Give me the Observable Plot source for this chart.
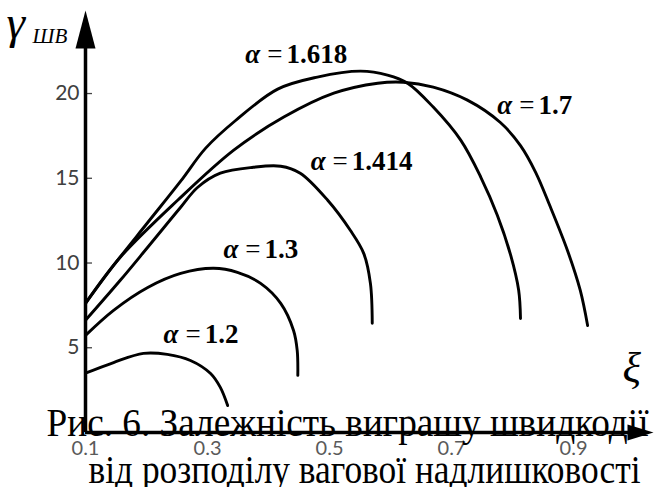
<!DOCTYPE html>
<html>
<head>
<meta charset="utf-8">
<script src="https://cdn.jsdelivr.net/npm/d3@7"></script>
<script src="https://cdn.jsdelivr.net/npm/@observablehq/plot@0.6"></script>
<style>
  html, body { margin: 0; padding: 0; background: #fff; }
  #fig { width: 654px; height: 487px; overflow: hidden; }
</style>
</head>
<body>
<div id="fig"></div>
<script>
// Axis ticks
const xiTicks = [0.1, 0.3, 0.5, 0.7, 0.9];
const gammaTicks = [5, 10, 15, 20];

// Curve families: speed gain γ_ШВ versus redundancy split ξ, one per α
const alphas = ["1.2", "1.3", "1.414", "1.618", "1.7"];

const xi12 = [0.1, 0.146, 0.195, 0.234, 0.272, 0.305, 0.321, 0.333];
const g12  = [3.5, 4.13, 4.67, 4.61, 4.25, 3.48, 2.66, 1.59];

const xi13 = [0.1, 0.146, 0.202, 0.256, 0.310, 0.349, 0.387, 0.420, 0.441, 0.447, 0.448];
const g13  = [5.73, 7.21, 8.56, 9.39, 9.69, 9.45, 8.80, 7.62, 6.02, 4.84, 3.37];

const xi1414 = [0.1, 0.157, 0.202, 0.256, 0.284, 0.321, 0.375, 0.420, 0.452, 0.497, 0.534, 0.556, 0.567, 0.570];
const g1414  = [6.62, 8.98, 10.93, 13.29, 14.47, 15.30, 15.65, 15.71, 15.30, 13.70, 11.93, 10.57, 8.80, 6.44];

const xi1618 = [0.1, 0.146, 0.202, 0.256, 0.297, 0.346, 0.415, 0.480, 0.551, 0.595, 0.628, 0.670, 0.715, 0.748, 0.775, 0.797, 0.810, 0.813];
const g1618  = [7.62, 9.86, 12.39, 14.83, 16.78, 18.41, 20.26, 20.97, 21.32, 21.09, 20.61, 19.20, 17.25, 15.06, 12.82, 10.45, 8.39, 6.73];

const xi17 = [0.1, 0.157, 0.251, 0.343, 0.425, 0.507, 0.579, 0.621, 0.670, 0.726, 0.780, 0.813, 0.838, 0.861, 0.890, 0.911, 0.923];
const g17  = [7.62, 10.34, 13.70, 16.66, 18.61, 20.02, 20.61, 20.67, 20.38, 19.61, 18.29, 16.93, 15.34, 13.39, 10.74, 8.38, 6.31];

// Where each α caption sits (start of text, on its baseline)
const labelXi    = [0.228, 0.326, 0.469, 0.362, 0.775];
const labelGamma = [5.31, 10.27, 15.46, 21.83, 18.82];

const captionLines = ["Рис. 6. Залежність виграшу швидкодії", "від розподілу вагової надлишковості"];

// Long-format rows for the line mark
const series = [[xi12, g12], [xi13, g13], [xi1414, g1414], [xi1618, g1618], [xi17, g17]];
const rows = series.flatMap(([xs, gs], k) => xs.map((x, i) => ({alpha: alphas[k], xi: x, gamma: gs[i]})));
const labels = alphas.map((a, k) => ({alpha: a, xi: labelXi[k], gamma: labelGamma[k]}));

const xMax = 1.031, yMax = 24.9;

// Filled arrowheads, tip at the symbol origin
const arrowUp = {draw(ctx) { ctx.moveTo(0, 0); ctx.lineTo(10, 38); ctx.lineTo(-10, 38); ctx.closePath(); }};
const arrowRight = {draw(ctx) { ctx.moveTo(0, 0); ctx.lineTo(-26, -8); ctx.lineTo(-26, 8); ctx.closePath(); }};

const serif = "Liberation Serif";

const chart = Plot.plot({
  width: 654,
  height: 487,
  marginLeft: 85,
  marginRight: 1,
  marginTop: 10,
  marginBottom: 55,
  x: {domain: [0.1, xMax], axis: null},
  y: {domain: [0, yMax], axis: null},
  style: {background: "transparent", overflow: "visible"},
  marks: [
    // tick labels
    Plot.text(gammaTicks, {x: 0.1, y: d => d, dx: -6, textAnchor: "end", lineAnchor: "middle",
      fontFamily: "Lato", fontSize: 21, fill: "#404040"}),
    Plot.text(xiTicks, {x: d => d, y: 0, dy: 16, text: d => d.toFixed(1), textAnchor: "middle", lineAnchor: "middle",
      fontFamily: "Lato", fontSize: 20, fill: "#5a5a5a"}),
    // tick stubs on the inner side of the vertical axis
    Plot.ruleY(gammaTicks, {x1: 0.1, x2: 0.1115, stroke: "#444", strokeWidth: 1.3}),
    // axes with arrowheads
    Plot.ruleX([0.1], {y1: 0, y2: 23, stroke: "black", strokeWidth: 3.5}),
    Plot.ruleY([0], {x1: 0.1, x2: 1.0, stroke: "black", strokeWidth: 3.5}),
    Plot.dot([[0.1, yMax]], {x: d => d[0], y: d => d[1], r: 5, symbol: arrowUp, fill: "black", stroke: null}),
    Plot.dot([[xMax, 0]], {x: d => d[0], y: d => d[1], r: 5, symbol: arrowRight, fill: "black", stroke: null}),
    // the curves
    Plot.line(rows, {x: "xi", y: "gamma", z: "alpha", curve: "catmull-rom", stroke: "black", strokeWidth: 2.9, strokeLinejoin: "round", strokeLinecap: "round"}),
    Plot.text(labels, {x: "xi", y: "gamma", text: d => "α =" + d.alpha, textAnchor: "start", lineAnchor: "bottom",
      fontFamily: serif, fontSize: 27, fontWeight: "bold", fill: "black", ariaDescription: "alpha-label"}),
    // axis titles
    Plot.text(["γ"], {frameAnchor: "top-left", dx: -79, dy: 27, textAnchor: "start", lineAnchor: "bottom",
      fontFamily: serif, fontSize: 47, fontStyle: "italic", fill: "black"}),
    Plot.text(["ШВ"], {frameAnchor: "top-left", dx: -53, dy: 32, textAnchor: "start", lineAnchor: "bottom",
      fontFamily: serif, fontSize: 21, fontStyle: "italic", fill: "black"}),
    Plot.text(["ξ"], {frameAnchor: "bottom-right", dx: -31, dy: -51, textAnchor: "start", lineAnchor: "bottom",
      fontFamily: serif, fontSize: 43, fontStyle: "italic", fill: "black"}),
    // figure caption, overlapping the horizontal axis
    Plot.text([captionLines[0]], {frameAnchor: "bottom-left", dx: -39, dy: 3, textAnchor: "start", lineAnchor: "bottom",
      fontFamily: serif, fontSize: 40, fill: "black", ariaDescription: "caption-1"}),
    Plot.text([captionLines[1]], {frameAnchor: "bottom-left", dx: 3, dy: 50, textAnchor: "start", lineAnchor: "bottom",
      fontFamily: serif, fontSize: 39, fill: "black", ariaDescription: "caption-2"})
  ]
});

const svg = d3.select(chart);

// α italic, "=" in regular weight, value in bold
svg.selectAll('g[aria-description="alpha-label"] text').each(function () {
  const t = d3.select(this);
  const value = t.text().split("=")[1];
  t.text(null);
  t.append("tspan").attr("font-style", "italic").text("α");
  t.append("tspan").attr("font-weight", "normal").attr("dx", 7).text("=");
  t.append("tspan").attr("dx", 4).text(value);
});

// set the caption lines to their printed widths
svg.select('g[aria-description="caption-1"] text').attr("textLength", 602).attr("lengthAdjust", "spacingAndGlyphs");
svg.select('g[aria-description="caption-2"] text').attr("textLength", 552).attr("lengthAdjust", "spacingAndGlyphs");

document.getElementById("fig").append(chart);
</script>
</body>
</html>
